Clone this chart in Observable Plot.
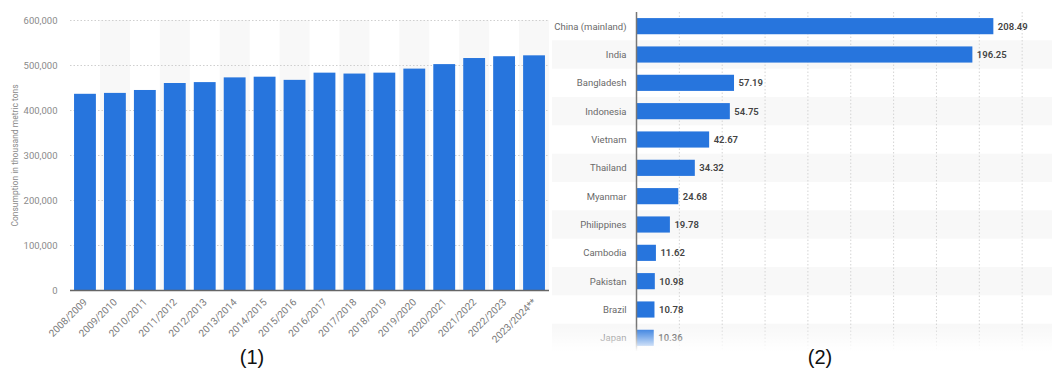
<!DOCTYPE html>
<html>
<head>
<meta charset="utf-8">
<script src="https://cdn.jsdelivr.net/npm/d3@7"></script>
<script src="https://cdn.jsdelivr.net/npm/@observablehq/plot@0.6"></script>
<style>
  html, body { margin: 0; padding: 0; background: #fff; }
  #wrap { position: relative; width: 1052px; height: 376px; overflow: hidden; background: #fff; }
  #c1 { position: absolute; left: 0; top: 0; }
  #c2 { position: absolute; left: 552px; top: 0; }
  #fade { position: absolute; left: 540px; top: 326px; width: 512px; height: 30px;
          background: linear-gradient(to bottom, rgba(255,255,255,0) 0%, rgba(255,255,255,0.45) 40%, rgba(255,255,255,1) 85%); }
  .cap { position: absolute; top: 345px; width: 60px; text-align: center; font-family: "Liberation Sans", sans-serif;
         font-size: 20px; line-height: 24px; color: #111; }
</style>
</head>
<body>
<div id="wrap">
  <div id="c1"></div>
  <div id="c2"></div>
  <div id="fade"></div>
  <div class="cap" style="left:222px">(1)</div>
  <div class="cap" style="left:790px">(2)</div>
</div>
<script>
// ---- Chart 1 data ----
const seasons = ["2008/2009","2009/2010","2010/2011","2011/2012","2012/2013","2013/2014","2014/2015","2015/2016",
                 "2016/2017","2017/2018","2018/2019","2019/2020","2020/2021","2021/2022","2022/2023","2023/2024**"];
const consumption = [436000, 438000, 444500, 460000, 462000, 472500, 474000, 467000,
                     483000, 481000, 483000, 492000, 502000, 515500, 519500, 521500];
const yTicks = [0, 100000, 200000, 300000, 400000, 500000, 600000];
const yLabel = "Consumption in thousand metric tons";

// ---- Chart 2 data ----
const countries = ["China (mainland)","India","Bangladesh","Indonesia","Vietnam","Thailand","Myanmar",
                   "Philippines","Cambodia","Pakistan","Brazil","Japan"];
const production = [208.49, 196.25, 57.19, 54.75, 42.67, 34.32, 24.68, 19.78, 11.62, 10.98, 10.78, 10.36];
const xTicks2 = [25, 50, 75, 100, 125, 150, 175, 200, 225];

const font = "Roboto, 'Liberation Sans', sans-serif";
const blue = "#2775dd";

// Chart 1
const table1 = seasons.map((s, i) => ({season: s, value: consumption[i]}));
const shadeSeasons = seasons.filter((s, i) => i % 2 === 1);
const m1 = {left: 70, right: 3, top: 20, bottom: 50};
const w1 = 552, h1 = 340;
const step1 = (w1 - m1.left - m1.right) / seasons.length;
const pad1 = 0.27;
const inset1 = -step1 * pad1 / 2;

const chart1 = Plot.plot({
  width: w1, height: h1,
  marginLeft: m1.left, marginRight: m1.right, marginTop: m1.top, marginBottom: m1.bottom,
  style: {fontFamily: font, fontSize: "9.5px", background: "transparent", overflow: "visible"},
  x: {domain: seasons, paddingInner: pad1, paddingOuter: pad1 / 2, round: false, label: null, axis: null},
  y: {domain: [0, 600000], label: null, axis: null},
  marks: [
    Plot.barY(shadeSeasons, {x: d => d, y1: 0, y2: 600000, fill: "#f8f8f8", insetLeft: inset1, insetRight: inset1}),
    Plot.gridY(yTicks.slice(1), {stroke: "#cfcfcf", strokeOpacity: 1, strokeDasharray: "1.5,2"}),
    Plot.barY(table1, {x: "season", y: "value", fill: blue}),
    Plot.ruleY([0], {stroke: "#666", strokeWidth: 1.5}),
    Plot.axisY(yTicks, {tickSize: 0, tickPadding: 13, tickFormat: d3.format(","), fill: "#8a8a8a", label: null}),
    Plot.axisX({tickSize: 0, tickRotate: -45, tickPadding: 10, fontSize: 10, fill: "#7a7a7a", label: null}),
    Plot.text([yLabel], {text: d => d, frameAnchor: "left", textAnchor: "middle", dx: -55, rotate: -90,
                         fill: "#8a8a8a", fontSize: 8.5})
  ]
});
document.getElementById("c1").appendChild(chart1);

// Chart 2
const table2 = countries.map((c, i) => ({country: c, value: production[i]}));
const shadeRows = countries.filter((c, i) => i % 2 === 1);
const m2 = {left: 84, right: 0, top: 12, bottom: 0};
const w2 = 500, h2 = 352;
const xmax = (w2 - m2.left - m2.right) / 1.714;
const step2 = (h2 - m2.top - m2.bottom) / countries.length;
const pad2 = 0.43;
const inset2 = -step2 * pad2 / 2;

const chart2 = Plot.plot({
  width: w2, height: h2,
  marginLeft: m2.left, marginRight: m2.right, marginTop: m2.top, marginBottom: m2.bottom,
  style: {fontFamily: font, fontSize: "9.5px", background: "transparent", overflow: "visible"},
  x: {domain: [0, xmax], axis: null},
  y: {domain: countries, paddingInner: pad2, paddingOuter: pad2 / 2, round: false, axis: null},
  marks: [
    Plot.barX(shadeRows, {y: d => d, x1: 0, x2: xmax, fill: "#f8f8f8", insetLeft: -m2.left, insetTop: inset2, insetBottom: inset2}),
    Plot.gridX(xTicks2, {stroke: "#d4d4d4", strokeOpacity: 1, strokeDasharray: "1.5,2"}),
    Plot.barX(table2, {y: "country", x: "value", fill: blue}),
    Plot.ruleX([0], {stroke: "#777", strokeWidth: 1.5}),
    Plot.axisY({tickSize: 0, tickPadding: 10, fill: "#6a6a6a", label: null}),
    Plot.text(table2, {y: "country", x: "value", text: d => d.value.toFixed(2), dx: 4, textAnchor: "start",
                       fill: "#444", fontWeight: 600})
  ]
});
document.getElementById("c2").appendChild(chart2);
</script>
</body>
</html>
